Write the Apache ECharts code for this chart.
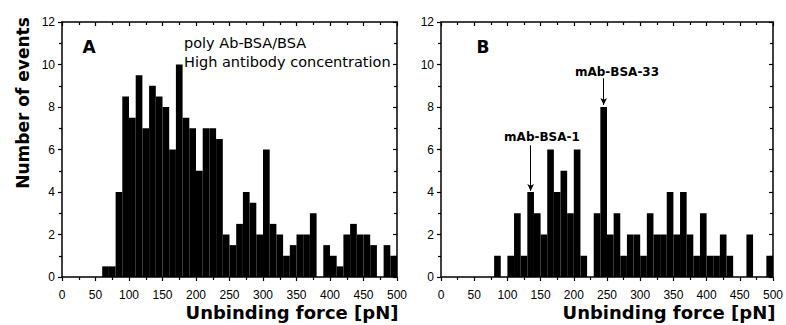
<!DOCTYPE html>
<html>
<head>
<meta charset="utf-8">
<script src="https://cdn.jsdelivr.net/npm/echarts@6/dist/echarts.min.js"></script>
<style>
  html, body { margin: 0; padding: 0; background: #fff; }
  #chart { width: 786px; height: 325px; }
</style>
</head>
<body>
<div id="chart"></div>
<script>
// histogram bins (left edge, pN), bin width 10 pN
const binWidth = 10;
const binStarts = [0, 10, 20, 30, 40, 50, 60, 70, 80, 90,
  100, 110, 120, 130, 140, 150, 160, 170, 180, 190,
  200, 210, 220, 230, 240, 250, 260, 270, 280, 290,
  300, 310, 320, 330, 340, 350, 360, 370, 380, 390,
  400, 410, 420, 430, 440, 450, 460, 470, 480, 490];

// panel A: poly Ab-BSA/BSA, high antibody concentration
const countsA = [0, 0, 0, 0, 0, 0, 0.5, 0.5, 4, 8.5,
  7.5, 9.5, 7, 9, 8.5, 8, 6, 10, 7.5, 7,
  5, 7, 7, 6.5, 2, 1.5, 2.5, 4, 3.5, 2,
  6, 2.5, 2, 1, 1.5, 2, 2, 3, 0, 1.5,
  1, 0.5, 2, 2.5, 2, 2, 1.5, 0, 1.5, 1];

// panel B
const countsB = [0, 0, 0, 0, 0, 0, 0, 0, 1, 0,
  1, 3, 1, 4, 3, 2, 6, 4, 5, 3,
  6, 1, 0, 3, 8, 2, 3, 1, 2, 2,
  1, 3, 2, 2, 4, 2, 4, 2, 1, 3,
  1, 1, 2, 1, 0, 0, 2, 0, 0, 1];

// arrows in panel B: [force, from count, to count]
const arrowsB = [[135, 6.2, 4.05], [245, 9.35, 8.1]];

const tickFont = "'Liberation Sans', Arial, sans-serif";
const titleFont = "'DejaVu Sans', sans-serif";

function toPairs(counts) {
  return binStarts.map((b, i) => [b, counts[i]]);
}

function histBar(params, api) {
  const x0 = api.value(0);
  const p0 = api.coord([x0, 0]);
  const p1 = api.coord([x0 + binWidth, api.value(1)]);
  return {
    type: 'rect',
    shape: { x: p0[0], y: p1[1], width: p1[0] - p0[0], height: p0[1] - p1[1] },
    style: { fill: '#000' }
  };
}

const lineStyle = { color: '#000', width: 1.5 };
const tickStyle = { color: '#000', width: 1.2 };

function xAxes(gi) {
  return [
    {
      gridIndex: gi, type: 'value', min: 0, max: 500, interval: 50,
      axisLine: { show: true, onZero: false, lineStyle },
      axisTick: { show: true, length: 4, lineStyle: tickStyle },
      minorTick: { show: true, splitNumber: 2, length: 3, lineStyle: tickStyle },
      splitLine: { show: false },
      axisLabel: { color: '#000', fontSize: 12, fontFamily: tickFont, margin: 12 }
    },
    {
      gridIndex: gi, type: 'value', position: 'top', min: 0, max: 500, interval: 50,
      axisLine: { show: true, onZero: false, lineStyle },
      axisTick: { show: true, inside: true, length: 4, lineStyle: tickStyle },
      minorTick: { show: true, splitNumber: 2, length: 3, lineStyle: tickStyle },
      splitLine: { show: false },
      axisLabel: { show: false }
    }
  ];
}

function yAxes(gi) {
  return [
    {
      gridIndex: gi, type: 'value', min: 0, max: 12, interval: 2,
      axisLine: { show: true, onZero: false, lineStyle },
      axisTick: { show: true, length: 4, lineStyle: tickStyle },
      minorTick: { show: true, splitNumber: 2, length: 3, lineStyle: tickStyle },
      splitLine: { show: false },
      axisLabel: { color: '#000', fontSize: 12, fontFamily: tickFont, margin: 7 }
    },
    {
      gridIndex: gi, type: 'value', position: 'right', min: 0, max: 12, interval: 2,
      axisLine: { show: true, onZero: false, lineStyle },
      axisTick: { show: true, inside: true, length: 4, lineStyle: tickStyle },
      minorTick: { show: true, splitNumber: 2, length: 3, lineStyle: tickStyle },
      splitLine: { show: false },
      axisLabel: { show: false }
    }
  ];
}

function label(text, x, y, size, weight, align) {
  return {
    type: 'text', x: x, y: y,
    style: {
      text: text, fill: '#000', fontSize: size, fontWeight: weight,
      fontFamily: titleFont, align: align || 'center', verticalAlign: 'middle'
    }
  };
}

const chart = echarts.init(document.getElementById('chart'), null, { renderer: 'svg' });

chart.setOption({
  animation: false,
  backgroundColor: '#fff',
  grid: [
    { left: 62, top: 22, width: 335, height: 255 },
    { left: 441, top: 22, width: 333, height: 255 }
  ],
  xAxis: xAxes(0).concat(xAxes(1)),
  yAxis: yAxes(0).concat(yAxes(1)),
  series: [
    {
      type: 'custom', xAxisIndex: 0, yAxisIndex: 0,
      renderItem: histBar, encode: { x: 0, y: 1 },
      data: toPairs(countsA), silent: true
    },
    {
      type: 'custom', xAxisIndex: 2, yAxisIndex: 2,
      renderItem: histBar, encode: { x: 0, y: 1 },
      data: toPairs(countsB), silent: true,
      markLine: {
        silent: true,
        symbol: ['none', 'arrow'],
        symbolSize: [5, 7],
        lineStyle: { color: '#000', width: 1, type: 'solid' },
        label: { show: false },
        data: arrowsB.map(a => [{ coord: [a[0], a[1]] }, { coord: [a[0], a[2]] }])
      }
    }
  ],
  graphic: [
    Object.assign(label('Number of events', 23, 103, 17, 'bold'), { rotation: Math.PI / 2 }),
    label('Unbinding force [pN]', 292, 312, 18, 'bold'),
    label('Unbinding force [pN]', 669, 312, 18, 'bold'),
    label('A', 89, 47, 17, 'bold'),
    label('B', 483, 47, 17, 'bold'),
    label('poly Ab-BSA/BSA', 184, 43, 14.5, 'normal', 'left'),
    label('High antibody concentration', 184, 62, 14.5, 'normal', 'left'),
    label('mAb-BSA-1', 542, 137, 12, 'bold'),
    label('mAb-BSA-33', 617, 72, 12, 'bold')
  ]
});
</script>
</body>
</html>
